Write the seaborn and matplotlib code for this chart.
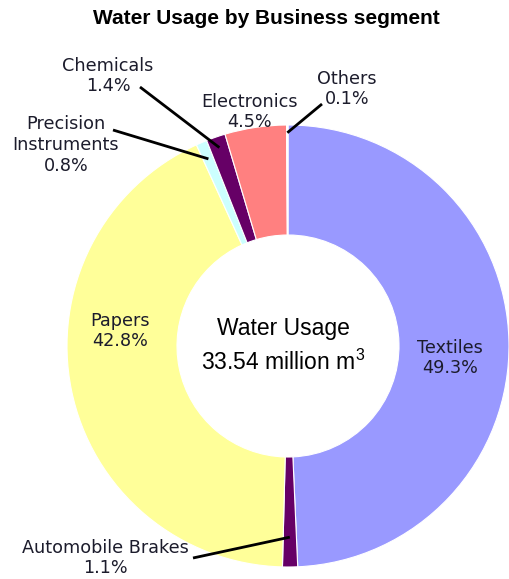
import numpy as np
import matplotlib
matplotlib.use("Agg")
import matplotlib.pyplot as plt
import seaborn as sns

# ---- data ----
categories = ["Textiles", "Automobile Brakes", "Papers", "Precision Instruments",
              "Chemicals", "Electronics", "Others"]
shares = [49.3, 1.1, 42.8, 0.8, 1.4, 4.5, 0.1]
label_names = ["Textiles", "Automobile Brakes", "Papers", "Precision\nInstruments",
               "Chemicals", "Electronics", "Others"]
title_text = "Water Usage by Business segment"
center_title = "Water Usage"
total_usage = 33.54

# ---- style ----
sns.set_theme(style="white")
plt.rcParams['font.family'] = ['DejaVu Sans']
plt.rcParams['mathtext.fontset'] = 'custom'
plt.rcParams['mathtext.rm'] = 'Liberation Sans'
plt.rcParams['mathtext.it'] = 'Liberation Sans:italic'

colors = ["#9999FF", "#660066", "#FFFF99", "#CCFFFF", "#660066", "#FF8080", "#FFFFFF"]

W, H = 510, 579
fig = plt.figure(figsize=(W / 100, H / 100), dpi=100)
ax = fig.add_axes([0, 0, 1, 1])

def py(y):  # pixel-from-top to data y
    return H - y

cx, cy, R = 288, py(346), 221
wedges, _ = ax.pie(shares, colors=colors, startangle=90, counterclock=False,
                   center=(cx, cy), radius=R,
                   wedgeprops=dict(width=110, edgecolor="white", linewidth=0.8))
ax.set_xlim(0, W)
ax.set_ylim(0, H)
ax.set_aspect("equal")
ax.axis("off")

txt_color = "#1c1c2c"
lab_fs = 12.7
lsp = 1.2

# label positions (pixel coords, centre of text block)
label_pos = {
    "Textiles": (450, 358),
    "Automobile Brakes": (105, 558),
    "Papers": (120, 331),
    "Precision Instruments": (66, 145),
    "Chemicals": (108, 76),
    "Electronics": (250, 112),
    "Others": (347, 89),
}
# leader lines: start point near label, radial fraction for end inside wedge
leaders = {
    "Automobile Brakes": ((193, 558), 0.865),
    "Precision Instruments": ((113, 130), 0.92),
    "Chemicals": ((140, 87), 0.95),
    "Others": ((322, 104), 0.965),
}

for cat, name, val, w in zip(categories, label_names, shares, wedges):
    x, y = label_pos[cat]
    ax.text(x, py(y), f"{name}\n{val:.1f}%", ha="center", va="center",
            fontsize=lab_fs, color=txt_color, linespacing=lsp)
    if cat in leaders:
        (sx, sy), frac = leaders[cat]
        ang = np.deg2rad((w.theta1 + w.theta2) / 2)
        ex = cx + R * frac * np.cos(ang)
        ey = cy + R * frac * np.sin(ang)
        ax.plot([sx, ex], [py(sy), ey], color="black", lw=2, solid_capstyle="butt")

ax.text(283, py(328), center_title, ha="center", va="center",
        fontsize=16.5, family="Liberation Sans", color="black")
ax.text(283, py(362), f"{total_usage:.2f} million " + r"$\mathrm{m}^{3}$",
        ha="center", va="center", fontsize=16.5, family="Liberation Sans", color="black")

ax.text(266, py(18), title_text, ha="center", va="center", fontsize=15,
        fontweight="bold", family="Liberation Sans", color="black")

fig.savefig("out.png", dpi=100)
